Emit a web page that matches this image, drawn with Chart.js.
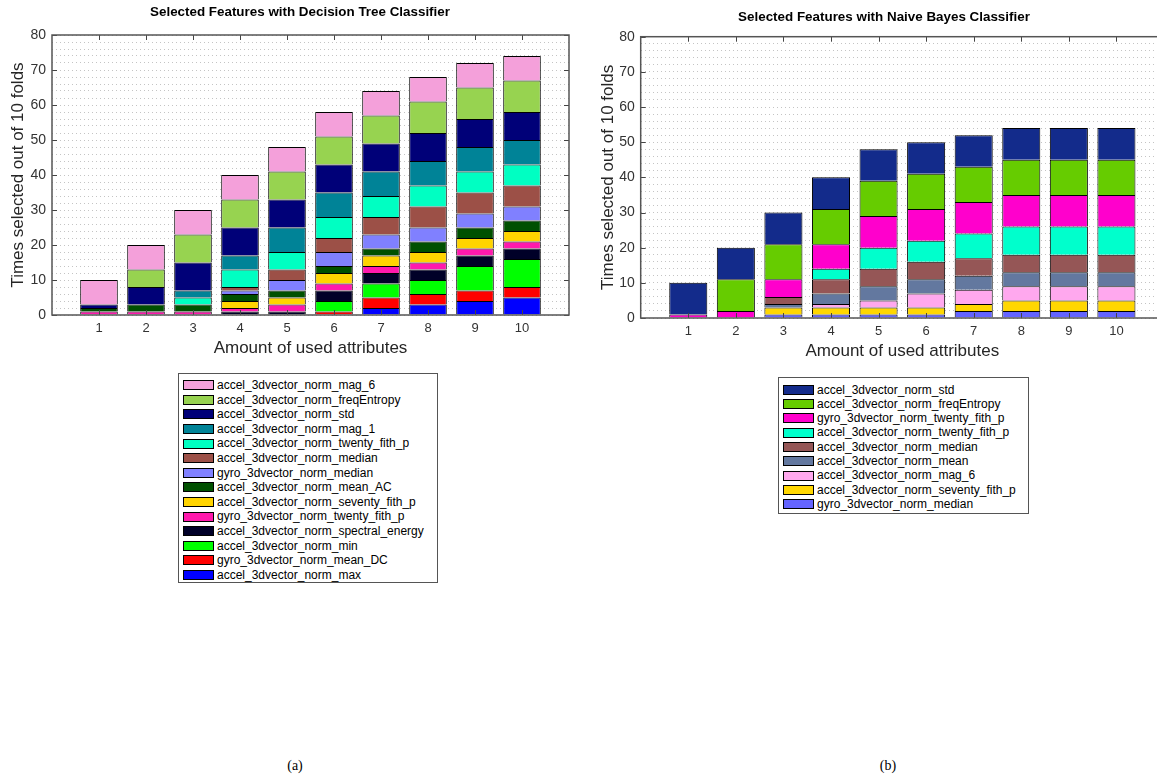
<!DOCTYPE html>
<html>
<head>
<meta charset="utf-8">
<script src="https://cdn.jsdelivr.net/npm/chart.js@4.4.1/dist/chart.umd.min.js"></script>
<style>
  html, body { margin: 0; padding: 0; background: #fff; width: 1157px; height: 781px; overflow: hidden; position: relative; font-family: "Liberation Sans", Arial, sans-serif; }
  canvas { position: absolute; top: 0; }
  .legend { position: absolute; border: 1px solid #555; background: #fff; box-sizing: border-box; font-size: 12px; color: #000; }
  .legend .row { position: relative; white-space: nowrap; }
  .legend .sw { position: absolute; left: 4px; width: 31px; height: 10px; border: 1px solid #000; box-sizing: border-box; }
  .legend .tx { position: absolute; left: 38px; top: 0; }
  .cap { position: absolute; font-family: "Liberation Serif", serif; font-size: 14px; transform: translateX(-50%); }
</style>
</head>
<body>
<canvas id="dtChart" width="575" height="360" style="left:0px"></canvas>
<canvas id="nbChart" width="580" height="363" style="left:590px"></canvas>
<div id="dtLegend" class="legend" style="left:178px; top:373px; width:260px; height:210px; padding-top:4px"></div>
<div id="nbLegend" class="legend" style="left:778px; top:377px; width:251px; height:137px; padding-top:4.5px"></div>
<div class="cap" style="left:295px; top:758px">(a)</div>
<div class="cap" style="left:888px; top:758px">(b)</div>
<script>
const attributes = ['1', '2', '3', '4', '5', '6', '7', '8', '9', '10'];

// Decision tree, bottom of the stack first
const dtMax            = [0, 0, 0, 0, 0, 0, 2, 3, 4, 5];
const dtGyroMeanDC     = [0, 0, 0, 0, 0, 1, 3, 3, 3, 3];
const dtMin            = [0, 0, 0, 0, 0, 3, 4, 4, 7, 8];
const dtSpectral       = [0, 0, 0, 1, 1, 3, 3, 3, 3, 3];
const dtGyroTwenty     = [1, 1, 1, 1, 2, 2, 2, 2, 2, 2];
const dtSeventy        = [0, 0, 0, 2, 2, 3, 3, 3, 3, 3];
const dtMeanAC         = [1, 2, 2, 2, 2, 2, 2, 3, 3, 3];
const dtGyroMedian     = [0, 0, 0, 1, 3, 4, 4, 4, 4, 4];
const dtMedian         = [0, 0, 0, 1, 3, 4, 5, 6, 6, 6];
const dtTwenty         = [0, 0, 2, 5, 5, 6, 6, 6, 6, 6];
const dtMag1           = [0, 0, 2, 4, 7, 7, 7, 7, 7, 7];
const dtStd            = [1, 5, 8, 8, 8, 8, 8, 8, 8, 8];
const dtFreqEntropy    = [0, 5, 8, 8, 8, 8, 8, 9, 9, 9];
const dtMag6           = [7, 7, 7, 7, 7, 7, 7, 7, 7, 7];

// Naive Bayes, bottom of the stack first
const nbGyroMedian     = [0, 0, 1, 1, 1, 1, 2, 2, 2, 2];
const nbSeventy        = [0, 0, 2, 2, 2, 2, 2, 3, 3, 3];
const nbMag6           = [0, 0, 0, 1, 2, 4, 4, 4, 4, 4];
const nbMean           = [0, 0, 1, 3, 4, 4, 4, 4, 4, 4];
const nbMedian         = [0, 0, 2, 4, 5, 5, 5, 5, 5, 5];
const nbTwenty         = [0, 0, 0, 3, 6, 6, 7, 8, 8, 8];
const nbGyroTwenty     = [1, 2, 5, 7, 9, 9, 9, 9, 9, 9];
const nbFreqEntropy    = [0, 9, 10, 10, 10, 10, 10, 10, 10, 10];
const nbStd            = [9, 9, 9, 9, 9, 9, 9, 9, 9, 9];

const dtSeries = [
  { label: 'accel_3dvector_norm_max', values: dtMax, color: '#0000FF' },
  { label: 'gyro_3dvector_norm_mean_DC', values: dtGyroMeanDC, color: '#FF0000' },
  { label: 'accel_3dvector_norm_min', values: dtMin, color: '#00FF00' },
  { label: 'accel_3dvector_norm_spectral_energy', values: dtSpectral, color: '#000028' },
  { label: 'gyro_3dvector_norm_twenty_fith_p', values: dtGyroTwenty, color: '#FF19AD' },
  { label: 'accel_3dvector_norm_seventy_fith_p', values: dtSeventy, color: '#FFD400' },
  { label: 'accel_3dvector_norm_mean_AC', values: dtMeanAC, color: '#005000' },
  { label: 'gyro_3dvector_norm_median', values: dtGyroMedian, color: '#8080FF' },
  { label: 'accel_3dvector_norm_median', values: dtMedian, color: '#9C5047' },
  { label: 'accel_3dvector_norm_twenty_fith_p', values: dtTwenty, color: '#00FFC2' },
  { label: 'accel_3dvector_norm_mag_1', values: dtMag1, color: '#008397' },
  { label: 'accel_3dvector_norm_std', values: dtStd, color: '#000078' },
  { label: 'accel_3dvector_norm_freqEntropy', values: dtFreqEntropy, color: '#97D350' },
  { label: 'accel_3dvector_norm_mag_6', values: dtMag6, color: '#F4A0DA' }
];

const nbSeries = [
  { label: 'gyro_3dvector_norm_median', values: nbGyroMedian, color: '#6464FF' },
  { label: 'accel_3dvector_norm_seventy_fith_p', values: nbSeventy, color: '#FFD700' },
  { label: 'accel_3dvector_norm_mag_6', values: nbMag6, color: '#FFA8EE' },
  { label: 'accel_3dvector_norm_mean', values: nbMean, color: '#63789F' },
  { label: 'accel_3dvector_norm_median', values: nbMedian, color: '#955656' },
  { label: 'accel_3dvector_norm_twenty_fith_p', values: nbTwenty, color: '#00FFCC' },
  { label: 'gyro_3dvector_norm_twenty_fith_p', values: nbGyroTwenty, color: '#FF00CC' },
  { label: 'accel_3dvector_norm_freqEntropy', values: nbFreqEntropy, color: '#66CC00' },
  { label: 'accel_3dvector_norm_std', values: nbStd, color: '#132B8B' }
];

const FONT = '"Liberation Sans", Arial, sans-serif';

// matlab style box with inward ticks
const framePlugin = {
  id: 'frame',
  afterDatasetsDraw(chart) {
    const { ctx, chartArea: a, scales: { x, y } } = chart;
    ctx.save();
    ctx.strokeStyle = '#444';
    ctx.lineWidth = 1;
    ctx.beginPath();
    y.ticks.forEach(t => {
      if (t.value % 10 !== 0) return;
      const py = Math.round(y.getPixelForValue(t.value)) + 0.5;
      ctx.moveTo(a.left, py); ctx.lineTo(a.left + 5, py);
      ctx.moveTo(a.right, py); ctx.lineTo(a.right - 5, py);
    });
    x.ticks.forEach(t => {
      const px = Math.round(x.getPixelForValue(t.value)) + 0.5;
      ctx.moveTo(px, a.bottom); ctx.lineTo(px, a.bottom - 5);
      ctx.moveTo(px, a.top); ctx.lineTo(px, a.top + 5);
    });
    ctx.stroke();
    ctx.strokeStyle = '#555';
    ctx.lineWidth = 1.5;
    ctx.strokeRect(a.left, a.top, a.right - a.left, a.bottom - a.top);
    ctx.restore();
  }
};

// title placed like the matlab figure
const headPlugin = {
  id: 'head',
  afterDraw(chart, args, opts) {
    const ctx = chart.ctx;
    ctx.save();
    ctx.font = 'bold 13.4px ' + FONT;
    ctx.fillStyle = '#000';
    ctx.textAlign = 'center';
    ctx.textBaseline = 'middle';
    ctx.fillText(opts.text, opts.x, opts.y);
    ctx.restore();
  }
};

function makeChart(id, series, head, top, yWidth) {
  return new Chart(document.getElementById(id), {
    type: 'bar',
    data: {
      datasets: series.map(s => ({
        label: s.label,
        data: s.values.map((v, i) => ({ x: Number(attributes[i]), y: v })),
        backgroundColor: s.color,
        borderColor: '#000',
        borderWidth: 1,
        barPercentage: 0.8,
        categoryPercentage: 1
      }))
    },
    options: {
      responsive: false,
      animation: false,
      layout: { padding: { left: 0, right: 6, top: top, bottom: 0 } },
      plugins: {
        legend: { display: false },
        tooltip: { enabled: false },
        title: { display: false },
        head: head
      },
      scales: {
        x: {
          type: 'linear',
          stacked: true,
          offset: false,
          min: 0,
          max: attributes.length + 1,
          afterBuildTicks: ax => { ax.ticks = attributes.map(a => ({ value: Number(a) })); },
          grid: { display: false, drawTicks: false },
          border: { display: false },
          ticks: { autoSkip: false, maxRotation: 0, color: '#333', padding: 6, font: { family: FONT, size: 13 }, callback: v => String(v) },
          title: { display: true, text: 'Amount of used attributes', color: '#262626', font: { family: FONT, size: 17 }, padding: { top: 0, bottom: 1 } },
          afterFit: sc => { sc.height = 45; }
        },
        y: {
          stacked: true,
          min: 0,
          max: 80,
          grid: { color: '#c4c4c4', lineWidth: 1, drawTicks: false },
          border: { display: false, dash: [1, 3] },
          ticks: { autoSkip: false, stepSize: 2, padding: 6, color: '#333', font: { family: FONT, size: 14 }, callback: v => (v % 10 === 0 ? v : '') },
          title: { display: true, text: 'Times selected out of 10 folds', color: '#262626', font: { family: FONT, size: 17 }, padding: { top: 8, bottom: 0 } },
          afterFit: sc => { sc.width = yWidth; }
        }
      }
    },
    plugins: [framePlugin, headPlugin]
  });
}

function buildLegend(id, series, rowH) {
  const box = document.getElementById(id);
  series.slice().reverse().forEach(s => {
    const row = document.createElement('div');
    row.className = 'row';
    row.style.height = rowH + 'px';
    const sw = document.createElement('div');
    sw.className = 'sw';
    sw.style.background = s.color;
    sw.style.top = ((rowH - 10) / 2) + 'px';
    const tx = document.createElement('span');
    tx.className = 'tx';
    tx.style.lineHeight = rowH + 'px';
    tx.textContent = s.label;
    row.appendChild(sw);
    row.appendChild(tx);
    box.appendChild(row);
  });
}

makeChart('dtChart', dtSeries, { text: 'Selected Features with Decision Tree Classifier', x: 300, y: 12 }, 35, 52);
makeChart('nbChart', nbSeries, { text: 'Selected Features with Naive Bayes Classifier', x: 294, y: 17 }, 36.7, 50.7);
buildLegend('dtLegend', dtSeries, 14.6);
buildLegend('nbLegend', nbSeries, 14.33);
</script>
</body>
</html>
